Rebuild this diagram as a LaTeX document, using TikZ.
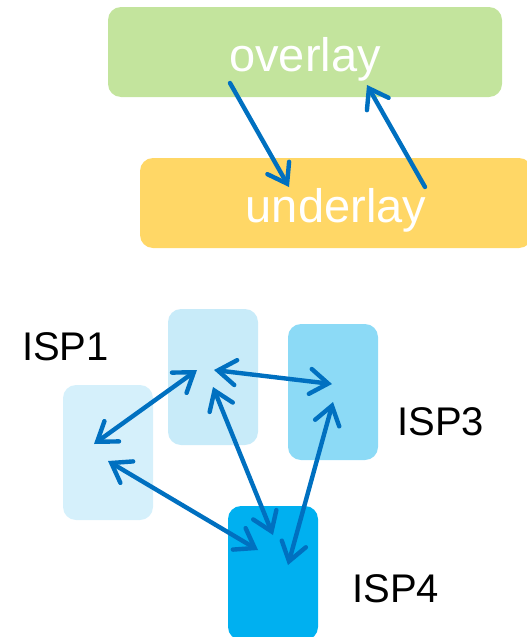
\documentclass[tikz,border=0pt]{standalone}
\usepackage{fontspec}
\setmainfont{Liberation Sans}
\usetikzlibrary{arrows.meta}
\definecolor{overgreen}{HTML}{C3E49D}
\definecolor{undergold}{HTML}{FFD766}
\definecolor{linkblue}{HTML}{0070C0}
\definecolor{ispA}{HTML}{D5F0FB}
\definecolor{ispB}{HTML}{C8EBF9}
\definecolor{ispC}{HTML}{8CDAF6}
\definecolor{ispD}{HTML}{00B0F0}
\begin{document}
\begin{tikzpicture}[x=1pt,y=-1pt,
  panel/.style={draw=none, rounded corners=13pt, inner sep=0pt},
  layertext/.style={text=white, font=\fontsize{47}{50}\selectfont, inner sep=0pt, anchor=base},
  isplabel/.style={text=black, font=\fontsize{40}{44}\selectfont, inner sep=0pt, anchor=base west},
  barb/.style={},
  link/.style={draw=linkblue, line width=4.4pt, line cap=round,
    arrows={-Straight Barb[length=18pt,width=25pt,line cap=round]}},
  dlink/.style={link, arrows={Straight Barb[length=18pt,width=25pt,line cap=round]-Straight Barb[length=18pt,width=25pt,line cap=round]}}]
\useasboundingbox (0,0) rectangle (527,637);

% layer panels
\node[panel, fill=overgreen, minimum width=394pt, minimum height=90pt] (overbox) at (305,52) {};
\node[panel, fill=undergold, minimum width=392pt, minimum height=90pt] (underbox) at (336,203) {};
\node[layertext] (overtxt) at (305,71) {overlay};
\node[layertext] (undertxt) at (336,222) {underlay};

% ISP panels
\node[panel, fill=ispA, minimum width=90pt, minimum height=135pt] (isp1) at (108,452.5) {};
\node[panel, fill=ispB, minimum width=90pt, minimum height=136pt] (isp2) at (213,377) {};
\node[panel, fill=ispC, minimum width=90pt, minimum height=136pt] (isp3) at (333,392) {};
\node[panel, fill=ispD, minimum width=90pt, minimum height=134pt] (isp4) at (273,573) {};

\node[isplabel] (l1) at (22,360) {ISP1};
\node[isplabel] (l3) at (397,435) {ISP3};
\node[isplabel] (l4) at (352,602) {ISP4};

% link end points
\coordinate (o1) at (230,83);  \coordinate (u1) at (289,187);
\coordinate (u2) at (425,187); \coordinate (o2) at (367,85);
\coordinate (a1) at (94,444);  \coordinate (a2) at (197,370);
\coordinate (b2) at (214,370); \coordinate (b3) at (332,384);
\coordinate (c2) at (213,387); \coordinate (c4) at (273,535);
\coordinate (d1) at (108,461); \coordinate (d4) at (258,550);
\coordinate (e3) at (333,402); \coordinate (e4) at (288,565);

% links
\draw[link] (o1) -- (u1);
\draw[link] (u2) -- (o2);
\draw[dlink] (a1) -- (a2);
\draw[dlink] (b2) -- (b3);
\draw[dlink] (c2) -- (c4);
\draw[dlink] (d1) -- (d4);
\draw[dlink] (e3) -- (e4);
\end{tikzpicture}
\end{document}
